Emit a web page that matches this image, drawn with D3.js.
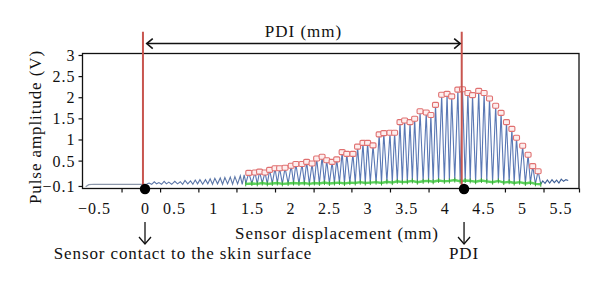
<!DOCTYPE html>
<html><head><meta charset="utf-8">
<script src="https://cdn.jsdelivr.net/npm/d3@7"></script>
<style>body{margin:0;background:#fff}svg{display:block}</style>
</head><body><svg id="c" width="600" height="287"></svg>
<script>
// ---- data ----
const xTickLabels = [-0.5, 0, 0.5, 1, 1.5, 2, 2.5, 3, 3.5, 4, 4.5, 5, 5.5];
const xTickMarks = [-0.23, 0.26, 0.81, 1.30, 1.80, 2.30, 2.79, 3.29, 3.79, 4.28, 4.78, 5.28, 5.74];
const yTickLabels = [-0.1, 0.5, 1, 1.5, 2, 2.5, 3];

const flatX = [-0.58, -0.55, -0.5, 0.0];
const flatV = [-0.12, -0.07, -0.06, -0.06];

const prePeakX = [0.07,0.16,0.24,0.33,0.41,0.51,0.58,0.64,0.71,0.77,0.83,0.90,0.96,1.02,1.09,1.15,1.22,1.28,1.35,1.40];
const prePeakV = [-0.03,0.0,-0.02,0.01,-0.01,0.01,0.0,0.03,0.02,0.04,0.05,0.05,0.07,0.08,0.09,0.10,0.11,0.12,0.14,0.16];
const preTroughV = [-0.06,-0.06,-0.05,-0.06,-0.05,-0.06,-0.05,-0.06,-0.05,-0.06,-0.05,-0.06,-0.05,-0.06,-0.05,-0.06,-0.05,-0.06,-0.05,-0.06,-0.05];

const peakX = [1.46,1.54,1.60,1.67,1.73,1.80,1.86,1.93,2.01,2.07,2.15,2.21,2.28,2.34,2.41,2.47,2.54,2.60,2.67,2.73,2.81,2.87,2.94,3.00,3.07,3.15,3.21,3.29,3.35,3.42,3.48,3.55,3.61,3.68,3.76,3.82,3.88,3.96,4.03,4.09,4.17,4.23,4.30,4.36,4.44,4.51,4.58,4.66,4.73,4.80,4.87,4.93,5.01,5.08,5.14,5.21];
const peakV = [0.21,0.22,0.24,0.22,0.28,0.32,0.32,0.33,0.38,0.42,0.42,0.47,0.43,0.55,0.59,0.51,0.47,0.53,0.70,0.66,0.66,0.83,0.92,0.92,0.86,1.12,1.15,1.16,1.16,1.41,1.45,1.41,1.49,1.67,1.64,1.58,1.82,2.06,2.08,2.02,2.18,2.19,2.10,2.05,2.15,2.10,1.97,1.80,1.63,1.41,1.25,1.04,0.85,0.64,0.37,0.25];
const troughV = [-0.05,-0.04,-0.05,-0.03,-0.05,-0.04,-0.03,-0.05,-0.04,-0.03,-0.04,-0.03,-0.05,-0.03,-0.04,-0.02,-0.04,-0.03,-0.02,-0.04,-0.02,-0.03,-0.01,-0.03,-0.02,-0.01,-0.03,0.0,-0.02,0.01,-0.01,0.0,0.02,-0.01,0.01,0.02,0.0,0.03,0.01,0.02,0.04,0.01,0.03,0.02,0.0,0.03,0.01,-0.01,0.02,-0.02,0.0,-0.03,-0.01,-0.04,-0.02,-0.05,-0.06];

const postX = [5.27,5.30,5.33,5.36,5.39,5.42,5.45,5.48,5.51,5.54,5.57,5.60];
const postV = [0.02,-0.04,0.04,-0.03,0.05,-0.02,0.04,-0.03,0.06,0.01,0.05,0.03];

const contactX = 0, pdiX = 4.25;
const redLineX = [-0.02, 4.22];

// ---- scales ----
const svg = d3.select("#c");
const FONT = "'Liberation Serif', 'Times New Roman', serif";
const x = d3.scaleLinear().domain([-0.61, -0.5, 0, 0.5, 1, 5.74]).range([82.5, 94, 145, 174, 213.3, 579]);
const y = d3.scaleLinear().domain([-0.16, 3.035]).range([188.5, 53.5]);
const [x0, x1] = [x(-0.61), x(5.74)];
const [yb, yt] = [y(-0.16), y(3.035)];

function zig(px, pv, tv) {
  const pts = [];
  for (let i = 0; i < px.length; i++) {
    const left = i === 0 ? px[0] - (px[1] - px[0]) / 2 : (px[i - 1] + px[i]) / 2;
    pts.push([left, tv[i]]);
    pts.push([px[i], pv[i]]);
  }
  const n = px.length;
  pts.push([px[n - 1] + (px[n - 1] - px[n - 2]) / 2, tv[n]]);
  return pts;
}
const prePts = zig(prePeakX, prePeakV, preTroughV);
const mainPts = zig(peakX, peakV, troughV);
const troughPts = mainPts.filter((d, i) => i % 2 === 0);
const postPts = postX.map((d, i) => [d, postV[i]]);
const line = d3.line().x(d => x(d[0])).y(d => y(d[1]));

// ---- box ----
svg.append("rect").attr("x", x0).attr("y", yt).attr("width", x1 - x0).attr("height", yb - yt)
  .attr("fill", "none").attr("stroke", "#111").attr("stroke-width", 1.3);

const gy = svg.append("g").attr("transform", `translate(${x0},0)`)
  .call(d3.axisLeft(y).tickValues(yTickLabels).tickSize(4).tickPadding(3).tickFormat(d3.format("")));
gy.select(".domain").remove();
gy.selectAll("line").attr("stroke", "#111").attr("stroke-width", 1.2);
gy.selectAll("text").attr("font-family", FONT).attr("font-size", 16).attr("letter-spacing", "1px").attr("fill", "#111").attr("dy", "0.34em");

const gxm = svg.append("g").attr("transform", `translate(0,${yb})`)
  .call(d3.axisBottom(x).tickValues(xTickMarks).tickSize(4).tickFormat(""));
gxm.select(".domain").remove();
gxm.selectAll("line").attr("stroke", "#111").attr("stroke-width", 1.2);

const gxl = svg.append("g").attr("transform", `translate(0,${yb})`)
  .call(d3.axisBottom(x).tickValues(xTickLabels).tickSize(0).tickPadding(14).tickFormat(d3.format("")));
gxl.select(".domain").remove();
gxl.selectAll("text").attr("font-family", FONT).attr("font-size", 16).attr("letter-spacing", "1px").attr("fill", "#111");

// ---- data marks ----
svg.append("path").attr("d", line(flatX.map((d, i) => [d, flatV[i]])))
  .attr("fill", "none").attr("stroke", "#8c97aa").attr("stroke-width", 1.2);
svg.append("path").attr("d", line(prePts)).attr("fill", "none").attr("stroke", "#5b76a8").attr("stroke-width", 1.1);
svg.append("path").attr("d", line(mainPts)).attr("fill", "none").attr("stroke", "#5a78b4").attr("stroke-width", 1.1);
svg.append("path").attr("d", line([mainPts[mainPts.length - 1]].concat(postPts))).attr("fill", "none").attr("stroke", "#3e5f96").attr("stroke-width", 1.1);

svg.append("path").attr("d", line(troughPts)).attr("fill", "none").attr("stroke", "#5ad45a").attr("stroke-width", 2.4);
svg.selectAll(".gm").data(troughPts).join("line").attr("class", "gm")
  .attr("x1", d => x(d[0])).attr("x2", d => x(d[0]))
  .attr("y1", d => y(d[1]) - 2.5).attr("y2", d => y(d[1]) + 2.5)
  .attr("stroke", "#3aa53a").attr("stroke-width", 1);

svg.selectAll(".pk").data(peakX).join("rect").attr("class", "pk")
  .attr("x", d => x(d) - 3).attr("y", (d, i) => y(peakV[i]) - 2.5)
  .attr("width", 6).attr("height", 5).attr("rx", 1.2)
  .attr("fill", "#fdeeee").attr("stroke", "#e07070").attr("stroke-width", 1.1);

svg.selectAll(".rl").data(redLineX).join("line").attr("class", "rl")
  .attr("x1", d => x(d)).attr("x2", d => x(d))
  .attr("y1", y(3.55)).attr("y2", yb + 1)
  .attr("stroke", "#c8554f").attr("stroke-width", 2);

svg.selectAll(".dot").data([contactX, pdiX]).join("circle").attr("class", "dot")
  .attr("cx", d => x(d)).attr("cy", yb + 0.5).attr("r", 5.2).attr("fill", "#000");

// PDI double arrow
const ay = y(3.27);
const ax0 = x(0.03), ax1 = x(4.20);
svg.append("line").attr("x1", ax0).attr("x2", ax1).attr("y1", ay).attr("y2", ay).attr("stroke", "#111").attr("stroke-width", 1.5);
svg.append("path").attr("d", `M${ax0 + 6},${ay - 5}L${ax0},${ay}L${ax0 + 6},${ay + 5}`).attr("fill", "none").attr("stroke", "#111").attr("stroke-width", 1.6);
svg.append("path").attr("d", `M${ax1 - 6},${ay - 5}L${ax1},${ay}L${ax1 - 6},${ay + 5}`).attr("fill", "none").attr("stroke", "#111").attr("stroke-width", 1.6);
svg.append("text").attr("x", (ax0 + ax1) / 2).attr("y", y(3.42)).attr("text-anchor", "middle")
  .attr("font-family", FONT).attr("font-size", 17).attr("letter-spacing", "1px").attr("fill", "#111").text("PDI (mm)");

function txt(t, xx, yy, size, anchor) {
  return svg.append("text").attr("x", xx).attr("y", yy).attr("text-anchor", anchor || "middle")
    .attr("font-family", FONT).attr("font-size", size).attr("letter-spacing", "0.9px").attr("fill", "#111").text(t);
}
svg.append("text").attr("transform", `translate(41,127) rotate(-90)`).attr("text-anchor", "middle")
  .attr("font-family", FONT).attr("font-size", 17).attr("letter-spacing", "0.9px").attr("fill", "#111").text("Pulse amplitude (V)");
txt("Sensor displacement (mm)", 337, 239, 17);
txt("Sensor contact to the skin surface", 183, 259, 17);
txt("PDI", x(pdiX), 259, 17);

// down arrows
[contactX, pdiX].forEach(v => {
  const cx = x(v);
  svg.append("line").attr("x1", cx).attr("x2", cx).attr("y1", 222).attr("y2", 244)
    .attr("stroke", "#111").attr("stroke-width", 1.3);
  svg.append("path").attr("d", `M${cx - 6},${237}L${cx},${244}L${cx + 6},${237}`)
    .attr("fill", "none").attr("stroke", "#111").attr("stroke-width", 1.3);
});
</script></body></html>
